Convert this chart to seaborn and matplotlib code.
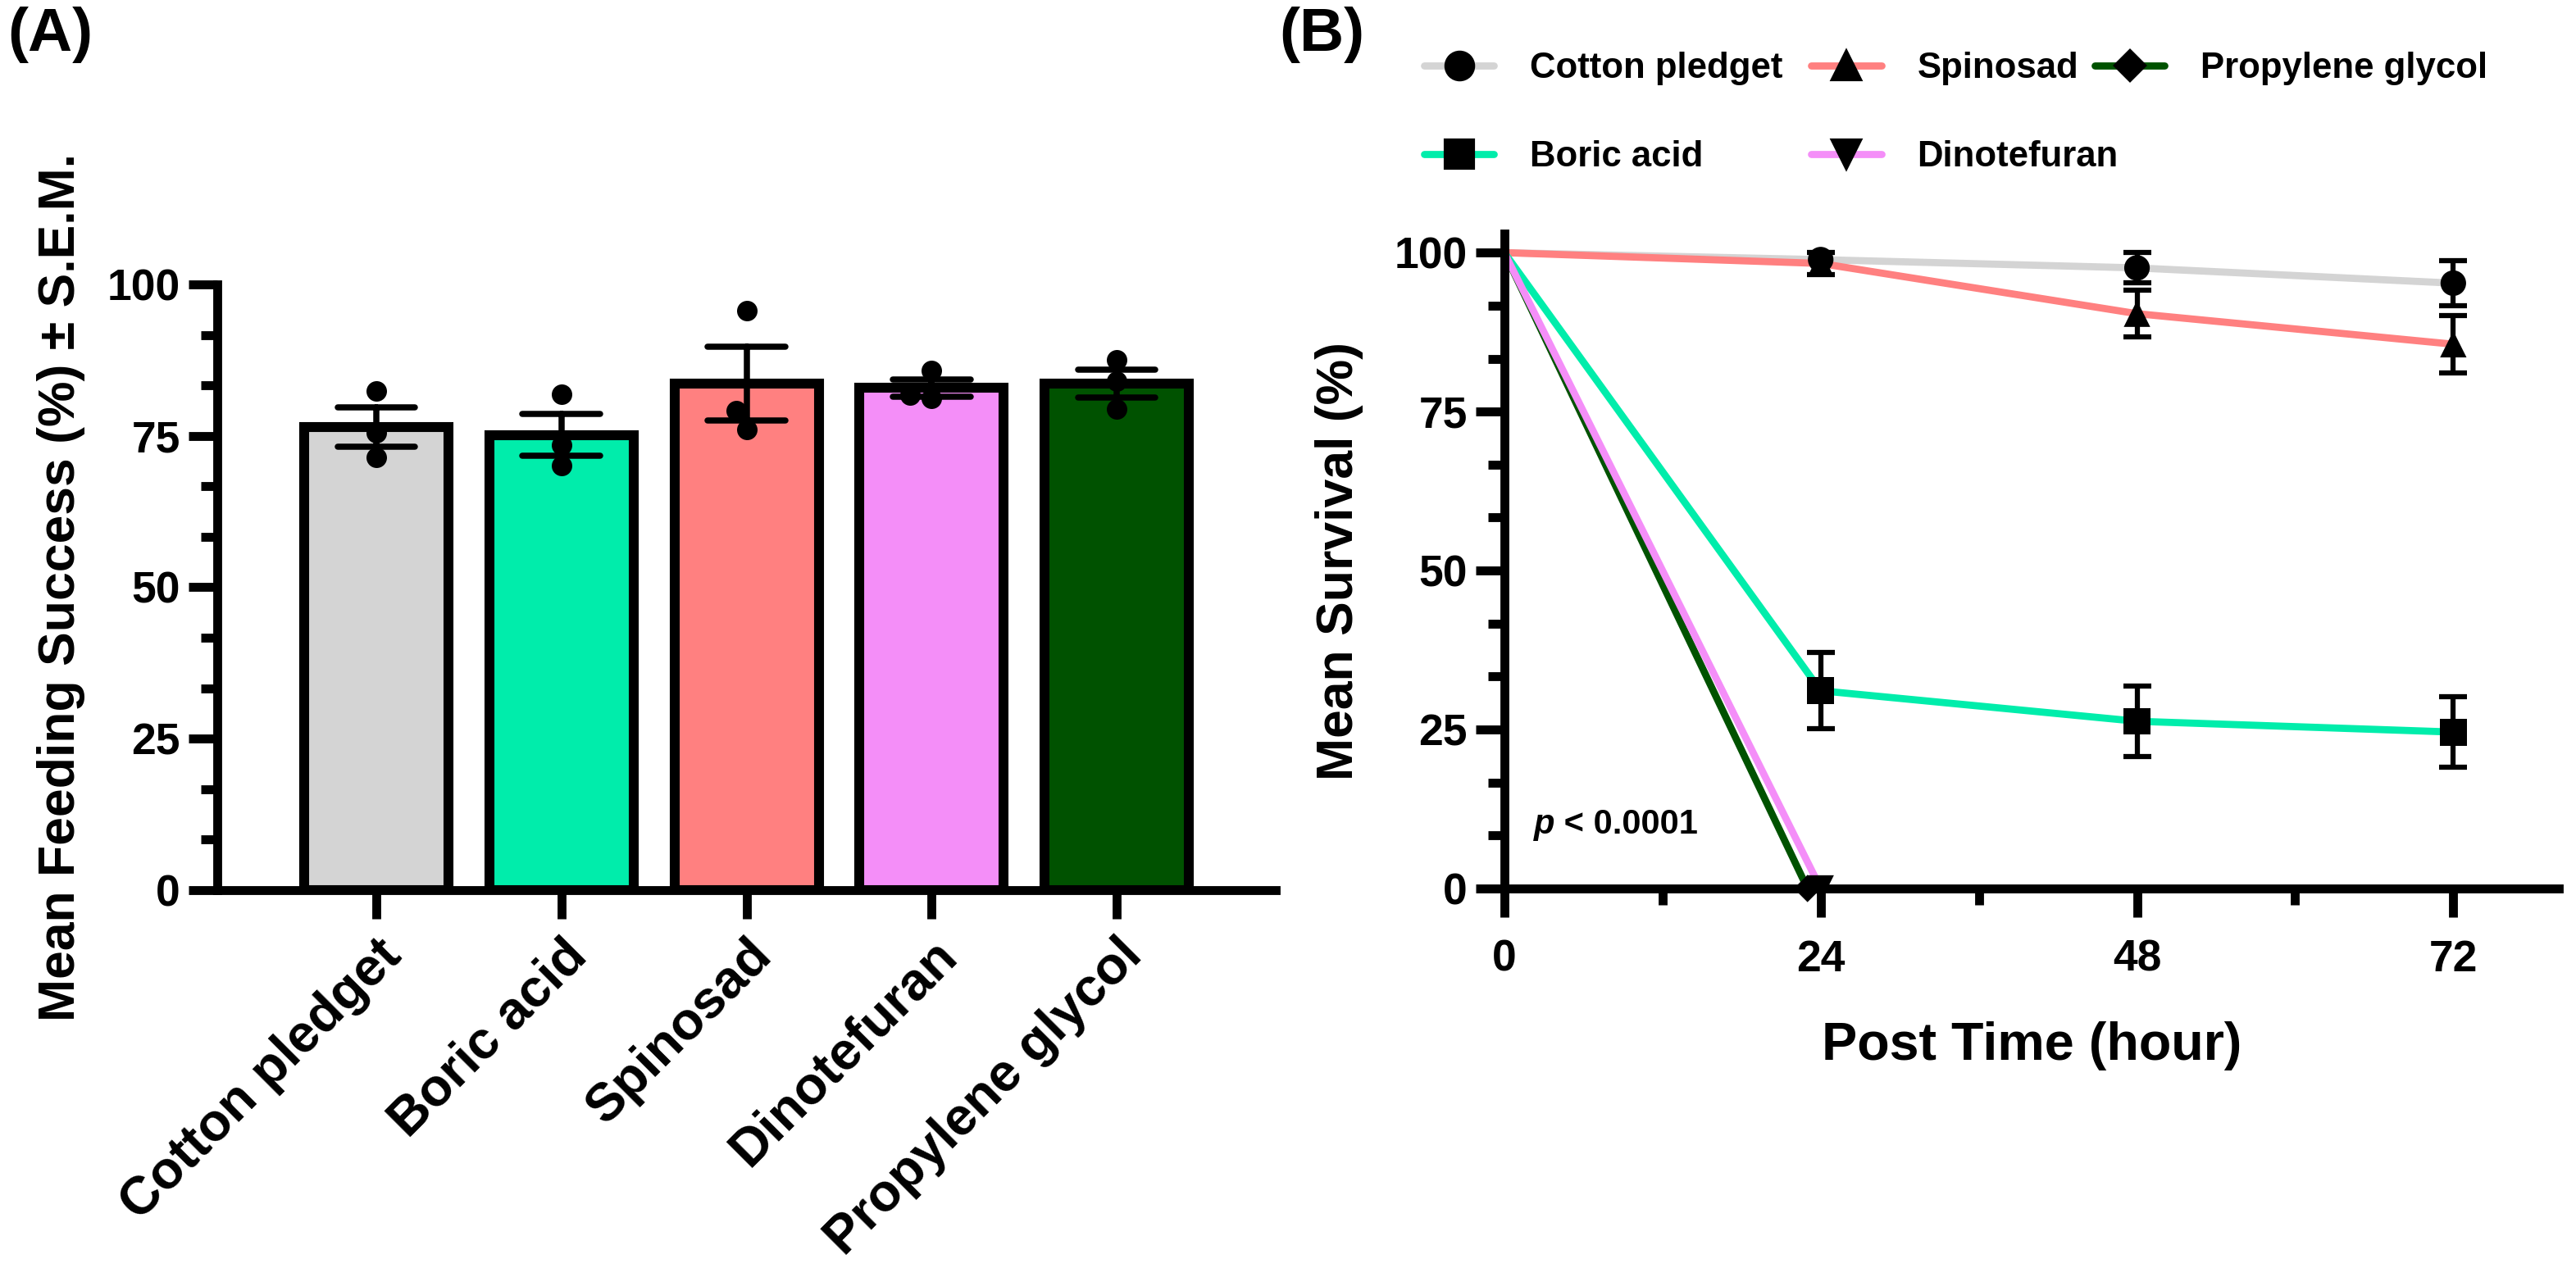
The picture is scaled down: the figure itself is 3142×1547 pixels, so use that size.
import numpy as np
import pandas as pd
import matplotlib
matplotlib.use('Agg')
import matplotlib.pyplot as plt
from matplotlib.lines import Line2D
from matplotlib.ticker import MultipleLocator
import seaborn as sns

#treatments and their colours
treatments = ['Cotton pledget', 'Boric acid', 'Spinosad', 'Dinotefuran', 'Propylene glycol']
colors = ['#D4D4D4', '#00EDAB', '#FF8080', '#F48EF8', '#005200']
markers = ['o', 's', '^', 'v', 'D']

#(A) feeding success (%), three replicates per treatment
feed_cotton = [82.4, 75.5, 71.4]
feed_boric = [81.9, 73.5, 70.1]
feed_spinosad = [95.7, 79.1, 76.1]
feed_dinotefuran = [85.8, 81.7, 81.2]
feed_propylene = [87.5, 84.0, 79.4]

#(B) mean survival (%) and S.E.M. over time
hours = [0, 24, 48, 72]
surv_cotton = [100, 98.9, 97.6, 95.2]
sem_cotton = [0, 0, 2.4, 3.5]
surv_boric = [100, 31.1, 26.3, 24.6]
sem_boric = [0, 6.0, 5.6, 5.5]
surv_spinosad = [100, 98.3, 90.4, 85.6]
sem_spinosad = [0, 1.7, 3.7, 4.5]
surv_dinotefuran = [100, 0]
sem_dinotefuran = [0, 0]
#in the figure the propylene glycol symbol sits just left of the 24 h tick
hours_propylene = [0, 23]
surv_propylene = [100, 0]
sem_propylene = [0, 0]

#long tables for seaborn
feed = [feed_cotton, feed_boric, feed_spinosad, feed_dinotefuran, feed_propylene]
df_feed = pd.DataFrame({'treatment': np.repeat(treatments, [len(v) for v in feed]),
                        'success': np.concatenate(feed)})

surv = [surv_cotton, surv_boric, surv_spinosad, surv_dinotefuran, surv_propylene]
sems = [sem_cotton, sem_boric, sem_spinosad, sem_dinotefuran, sem_propylene]
times = [hours, hours, hours, hours, hours_propylene]
rows = []
for t, hh, m, s in zip(treatments, times, surv, sems):
    for h, mv, sv in zip(hh, m, s):
        rows.append({'treatment': t, 'hour': h, 'survival': mv, 'sem': sv})
df_surv = pd.DataFrame(rows)

sns.set_style('ticks')
plt.rcParams['font.family'] = ['Liberation Sans', 'DejaVu Sans']
plt.rcParams['font.weight'] = 'bold'
plt.rcParams['axes.labelweight'] = 'bold'
for k in ('text.color', 'axes.labelcolor', 'xtick.color', 'ytick.color', 'axes.edgecolor'):
    plt.rcParams[k] = 'black'

fig = plt.figure(figsize=(3142 / 300, 1547 / 300), dpi=300)
ax1 = fig.add_axes([0.0843, 0.298, 0.411, 0.4777])
ax2 = fig.add_axes([0.584, 0.2993, 0.4093, 0.5165])

#---- panel A
sns.barplot(data=df_feed, x='treatment', y='success', hue='treatment', order=treatments,
            hue_order=treatments, palette=colors, saturation=1, legend=False, errorbar='se',
            capsize=0.42, width=0.78, edgecolor='black', linewidth=2.9,
            err_kws={'color': 'black', 'linewidth': 1.8}, ax=ax1)
sns.swarmplot(data=df_feed, x='treatment', y='success', order=treatments, color='black',
              size=6, ax=ax1)
ax1.set_xlim(-0.86, 4.86)
ax1.set_ylim(0, 100)
ax1.yaxis.set_major_locator(MultipleLocator(25))
ax1.yaxis.set_minor_locator(MultipleLocator(25 / 3))
ax1.set_xlabel('')
ax1.set_ylabel('Mean Feeding Success (%) ± S.E.M.', fontsize=15, labelpad=6.5)
ax1.tick_params(axis='both', which='major', length=8.3, width=2.6, labelsize=12.8, pad=2.5)
ax1.tick_params(axis='x', which='major', pad=3.5)
ax1.tick_params(axis='y', which='minor', length=4.8, width=2.6)
plt.setp(ax1.get_xticklabels(), rotation=45, ha='right', va='top',
         rotation_mode='anchor', fontsize=15.5)

#---- panel B
draw_order = ['Cotton pledget', 'Spinosad', 'Boric acid', 'Propylene glycol', 'Dinotefuran']
sns.lineplot(data=df_surv, x='hour', y='survival', hue='treatment', hue_order=draw_order,
             palette=dict(zip(treatments, colors)), linewidth=2.1, errorbar=None,
             legend=False, ax=ax2)
err = df_surv[df_surv['sem'] > 0]
ax2.errorbar(err['hour'], err['survival'], yerr=err['sem'], fmt='none', ecolor='black',
             elinewidth=1.5, capsize=4, capthick=1.5, zorder=4)
#symbols are shown from 24 h on (start point is a plain line)
pts = df_surv[df_surv['hour'] > 0]
sns.scatterplot(data=pts, x='hour', y='survival', style='treatment', style_order=treatments,
                markers=dict(zip(treatments, markers)), size='treatment', size_order=treatments,
                sizes=dict(zip(treatments, [56, 62, 60, 60, 32])), color='black',
                linewidth=0, legend=False, zorder=5, clip_on=False, ax=ax2)
ax2.set_xlim(0, 80)
ax2.set_ylim(0, 103)
ax2.set_xticks(hours)
ax2.xaxis.set_minor_locator(MultipleLocator(12))
ax2.yaxis.set_major_locator(MultipleLocator(25))
ax2.yaxis.set_minor_locator(MultipleLocator(25 / 3))
ax2.set_xlabel('Post Time (hour)', fontsize=15.5, labelpad=12)
ax2.set_ylabel('Mean Survival (%)', fontsize=15, labelpad=9)
ax2.tick_params(axis='both', which='major', length=8.3, width=2.6, labelsize=12.8, pad=2.5)
ax2.tick_params(axis='x', which='major', pad=6.5)
ax2.tick_params(axis='both', which='minor', length=4.8, width=2.6)
t = ax2.text(2.24, 10.0, 'p', style='italic', fontsize=10, va='center')
ax2.annotate(' < 0.0001', xy=(1, 0), xycoords=t, va='bottom', ha='left', fontsize=10)

for ax in (ax1, ax2):
    sns.despine(ax=ax)
    for s in ('left', 'bottom'):
        ax.spines[s].set_linewidth(2.6)

handles = [Line2D([], [], color=c, lw=2.1, marker=m, markersize=8 if m != 'D' else 6,
                  markerfacecolor='black', markeredgecolor='black')
           for c, m in zip(colors, markers)]
leg_kw = dict(loc='upper left', frameon=False, fontsize=10.5, handlelength=1.95,
              handletextpad=1.0, labelspacing=1.52, borderpad=0, borderaxespad=0)
fig.legend(handles[:4], treatments[:4], ncol=2, bbox_to_anchor=(0.5528, 0.959),
           columnspacing=0.8, **leg_kw)
fig.legend(handles[4:], treatments[4:], ncol=1, bbox_to_anchor=(0.8132, 0.959), **leg_kw)

fig.text(0.003, 0.995, '(A)', fontsize=18, va='top')
fig.text(0.4965, 0.995, '(B)', fontsize=18, va='top')

fig.savefig('out.png', dpi=300)
